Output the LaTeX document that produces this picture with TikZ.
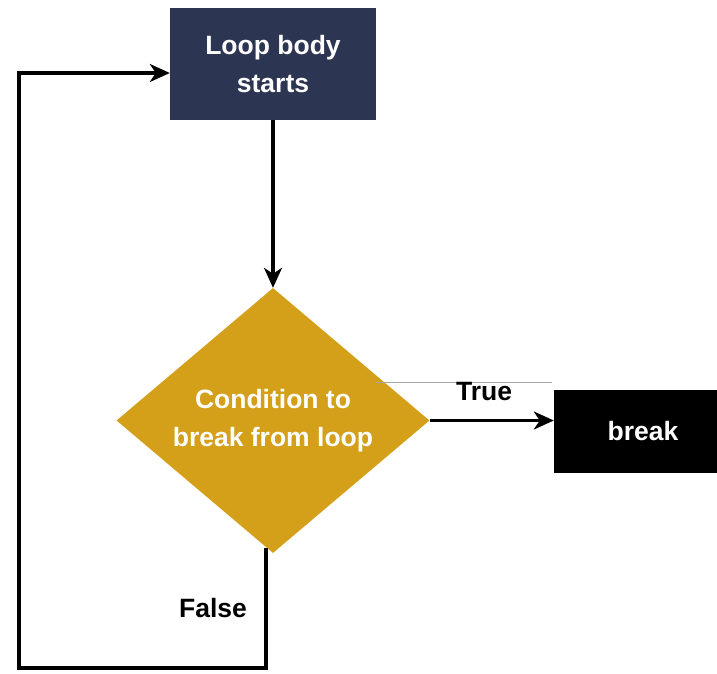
\documentclass[tikz,border=0pt]{standalone}
\usepackage{fontspec}
\setmainfont{Liberation Sans}
\usetikzlibrary{shapes.geometric,arrows.meta}
\definecolor{navy}{HTML}{2C3552}
\definecolor{gold}{HTML}{D4A01A}
\begin{document}
\begin{tikzpicture}[x=1pt,y=-1pt,
  txt/.style={font=\fontsize{26.5}{38}\selectfont\bfseries, align=center},
  conn/.style={line width=3.2pt, draw=black},
  arr/.style={conn, -{Stealth[length=20pt,width=18pt,inset=6pt]}}]
\clip (0,0) rectangle (717,674);
\fill[white] (0,0) rectangle (717,674);
\node[txt, fill=navy, text=white, minimum width=206pt, minimum height=112pt, inner sep=0pt] (start) at (273,64) {Loop body\\starts};
\node[txt, diamond, fill=gold, text=white, minimum width=313pt, minimum height=265pt, inner sep=0pt, aspect=1.18] (cond) at (273,420.5) {Condition to\\break from loop};
\node[txt, fill=black, text=white, minimum width=178pt, minimum height=83pt, inner sep=0pt] (brk) at (643,431.5) {break};
\draw[gray!70, line width=0.8pt] (376,382) -- (552,382);
\draw[arr] (start.south) -- (cond.north);
\draw[arr] (cond.east) -- (brk.west |- cond.east);
\node[txt, text=black] (t) at (484,392) {True};
\coordinate (b1) at (266,668);
\coordinate (b2) at (19,668);
\coordinate (b3) at (19,73);
\draw[arr] (266,548) -- (b1) -- (b2) -- (b3) -- (start.west |- b3);
\node[txt, text=black] (f) at (213,608) {False};
\end{tikzpicture}
\end{document}
